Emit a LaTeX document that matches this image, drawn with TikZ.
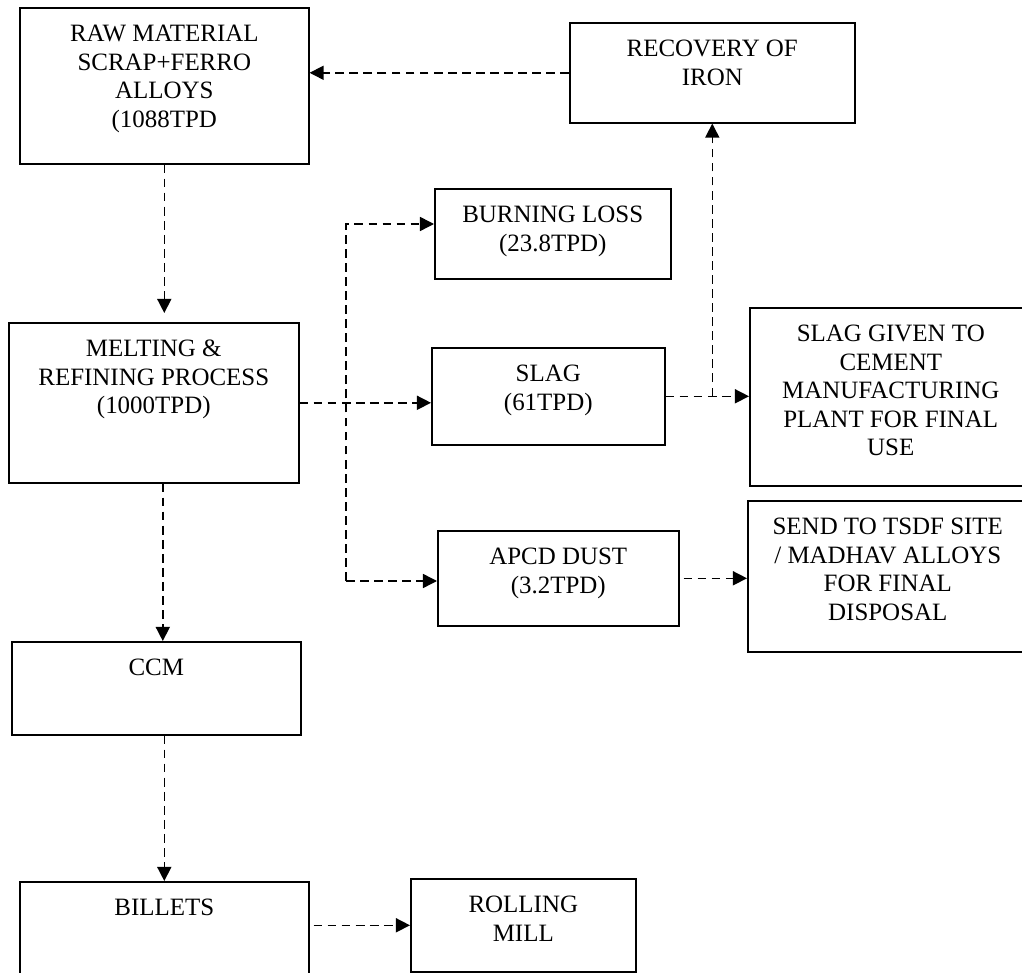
\documentclass[tikz,border=0pt]{standalone}
\usepackage{fontspec}
\setmainfont{Liberation Serif}
\usetikzlibrary{arrows.meta}
\newlength{\pxu}\setlength{\pxu}{0.02cm}
\newcommand{\boxtext}[3]{\parbox[c][#2\pxu][t]{#1\pxu}{\centering\rule{0pt}{19.4pt}#3}}

\begin{document}
\begin{tikzpicture}[x=0.02cm, y=-0.02cm,
    box/.style={draw, line width=0.9pt, inner sep=0pt, anchor=north west,
        font=\fontsize{14.2}{16.2}\selectfont},
    arr/.style={dash pattern=on 5pt off 3pt, line width=0.85pt,
        -{Triangle[length=8pt,width=8pt]}}]
    \clip (0,0) rectangle (1022,973);

    % process chain
    \node[box] (raw) at (19,7) {\boxtext{289}{156}{RAW MATERIAL\\SCRAP+FERRO\\ALLOYS\\(1088TPD}};
    \node[box] (melt) at (8,322) {\boxtext{290}{160}{MELTING \&\\REFINING PROCESS\\(1000TPD)}};
    \node[box] (ccm) at (11,641) {\boxtext{289}{93}{CCM}};
    \node[box] (billets) at (19,881) {\boxtext{289}{120}{BILLETS}};
    \node[box] (mill) at (410,878) {\boxtext{225}{93}{ROLLING\\MILL}};

    % by-products
    \node[box] (recov) at (569,22) {\boxtext{285}{100}{RECOVERY OF\\IRON}};
    \node[box] (burn) at (434,188) {\boxtext{236}{90}{BURNING LOSS\\(23.8TPD)}};
    \node[box] (slag) at (431,347) {\boxtext{233}{97}{SLAG\\(61TPD)}};
    \node[box] (apcd) at (437,530) {\boxtext{241}{95}{APCD DUST\\(3.2TPD)}};
    \node[box] (cement) at (749,307) {\boxtext{282}{178}{SLAG GIVEN TO\\CEMENT\\MANUFACTURING\\PLANT FOR FINAL\\USE}};
    \node[box] (tsdf) at (747,500) {\boxtext{280}{151}{SEND TO TSDF SITE\\/ MADHAV ALLOYS\\FOR FINAL\\DISPOSAL}};

    \coordinate (split top) at (346,224);
    \coordinate (split bot) at (346,581);
    \coordinate (ccm in) at ([xshift=0.13cm]ccm.north);

    \draw[arr] (recov.west) -- (recov.west -| raw.east);
    \draw[arr, shorten >=0.18cm] (raw.south) -- (raw.south |- melt.north);
    \draw[arr] (melt.east) -- (melt.east -| slag.west);
    \draw[arr] (split bot) -- (split top) -- (split top -| burn.west);
    \draw[arr] (split bot) -- (split bot -| apcd.west);
    \draw[arr] (slag.east) -- (slag.east -| cement.west);
    \draw[arr] (slag.east -| recov.south) -- (recov.south);
    \draw[arr, shorten <=0.08cm] (apcd.east) -- (apcd.east -| tsdf.west);
    \draw[arr] (ccm in |- melt.south) -- (ccm in);
    \draw[arr] (billets.north |- ccm.south) -- (billets.north);
    \draw[arr, shorten <=0.08cm] (billets.east |- mill.west) -- (mill.west);
\end{tikzpicture}
\end{document}
